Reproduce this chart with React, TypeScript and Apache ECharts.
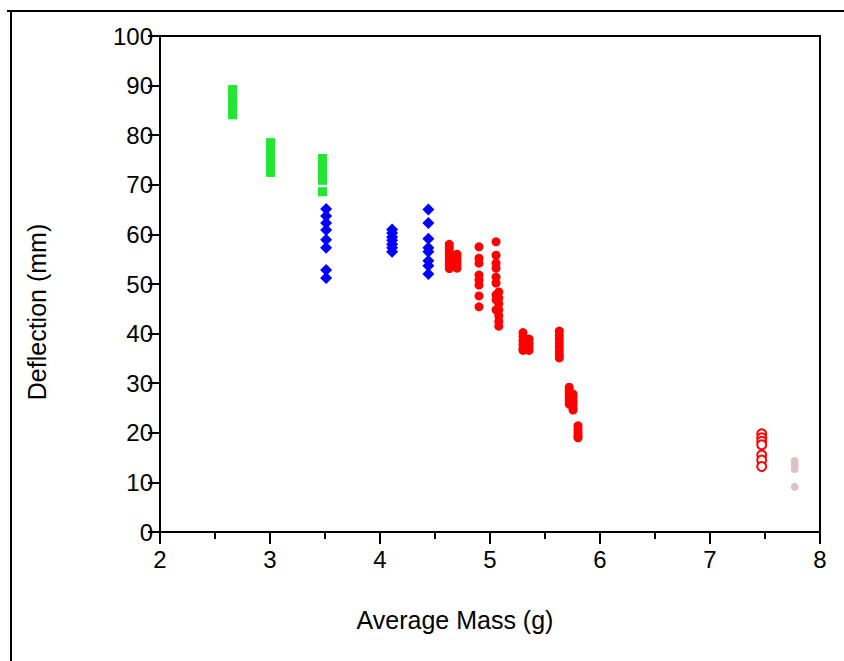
import React, { useEffect, useRef } from "react";
import * as echarts from "echarts";

// x ticks / y ticks
const xMin = 2, xMax = 8, xStep = 1;
const yMin = 0, yMax = 100, yStep = 10;

// Green columns (rect markers)
const greenCols: [number, number[]][] = [
  [2.66, [89.2, 87.5, 85.8, 84.1]],
  [3.005, [78.5, 77, 75.5, 74, 72.5]],
  [3.477, [75.3, 73.8, 72.3, 70.9, 68.6]],
];

// Blue columns (diamonds)
const blueCols: [number, number[]][] = [
  [3.51, [65.1, 63.7, 62.3, 60.9, 58.9, 57.3, 52.8, 51.2]],
  [4.11, [61, 60.3, 59.5, 58.8, 58, 57.3, 56.5]],
  [4.44, [65, 62.3, 59.1, 57.3, 56.5, 54.7, 53.7, 52]],
];

// Red filled circles
const redCols: [number, number[]][] = [
  [4.63, [58, 57.3, 56.6, 55.9, 55.2, 54.5, 53.8, 53.1]],
  [4.7, [56, 55.3, 54.6, 53.9, 53.2]],
  [4.9, [57.5, 55.2, 54.2, 51.8, 50.8, 49.8, 47.6, 45.4]],
  [5.055, [58.5, 55.8, 54.2, 53.2, 51.4, 50.2, 47.8, 46.8, 44.8]],
  [5.08, [48.4, 47.2, 46, 44.8, 43.6, 42.5, 41.5]],
  [5.3, [40.2, 39.4, 38.6, 37.8, 37, 36.6]],
  [5.355, [38.9, 38.1, 37.3, 36.6]],
  [5.63, [40.5, 39.7, 38.9, 38.1, 37.3, 36.5, 35.7, 35.1]],
  [5.72, [29.2, 28.5, 27.8, 27.1, 26.4, 25.8]],
  [5.755, [27.8, 27.1, 26.4, 25.7, 25, 24.6]],
  [5.8, [21.4, 20.7, 20, 19.4, 19]],
];

// Red hollow circles
const hollowCols: [number, number[]][] = [
  [7.47, [19.8, 19, 18.3, 17.6, 15.5, 14.5, 13.2]],
];

// Pink circles
const pinkCols: [number, number[]][] = [
  [7.77, [14.3, 13.5, 12.7, 9.1]],
];

const xTitle = "Average Mass (g)";
const yTitle = "Deflection (mm)";

const flat = (cols: [number, number[]][]) =>
  cols.flatMap(([x, ys]) => ys.map((y) => [x, y]));

const FONT = "'Liberation Sans', Arial, sans-serif";

export default function App() {
  const ref = useRef<HTMLDivElement>(null);
  useEffect(() => {
    document.body.style.margin = "0";
    const chart = echarts.init(ref.current!, null, { renderer: "svg" });
    const axisCommon = {
      axisLine: { show: true, lineStyle: { color: "#000", width: 2 } },
      axisTick: { show: true, inside: false, length: 12, lineStyle: { color: "#000", width: 2 } },
      splitLine: { show: false },
    };
    chart.setOption({
      animation: false,
      backgroundColor: "#fff",
      grid: {
        left: 160, right: 24, top: 36, bottom: 129,
        show: true, borderColor: "#000", borderWidth: 2, backgroundColor: "transparent",
      },
      xAxis: {
        type: "value", min: xMin, max: xMax, interval: xStep,
        ...axisCommon,
        minorTick: { show: true, splitNumber: 2, length: 7, lineStyle: { color: "#000", width: 2 } },
        axisLabel: { color: "#000", fontSize: 24, fontFamily: FONT, margin: 15 },
      },
      yAxis: {
        type: "value", min: yMin, max: yMax, interval: yStep,
        ...axisCommon,
        axisLabel: { color: "#000", fontSize: 24, fontFamily: FONT, margin: 7 },
      },
      graphic: [
        { type: "line", shape: { x1: 7, y1: 11, x2: 844, y2: 11 }, style: { stroke: "#000", lineWidth: 2 } },
        { type: "line", shape: { x1: 11, y1: 11, x2: 11, y2: 661 }, style: { stroke: "#000", lineWidth: 2 } },
        {
          type: "text", x: 455, y: 620,
          style: { text: xTitle, fill: "#000", font: `25px ${FONT}`, textAlign: "center", textVerticalAlign: "middle" },
        },
        {
          type: "text", x: 37, y: 312, rotation: Math.PI / 2,
          style: { text: yTitle, fill: "#000", font: `25px ${FONT}`, textAlign: "center", textVerticalAlign: "middle" },
        },
      ],
      series: [
        {
          type: "scatter", data: flat(greenCols), symbol: "rect", symbolSize: [9, 9],
          itemStyle: { color: "#22e632", opacity: 1 },
        },
        {
          type: "scatter", data: flat(blueCols), symbol: "diamond", symbolSize: 12,
          itemStyle: { color: "#0000ff", opacity: 1 },
        },
        {
          type: "scatter", data: flat(redCols), symbol: "circle", symbolSize: 9,
          itemStyle: { color: "#ff0000", opacity: 1 },
        },
        {
          type: "scatter", data: flat(hollowCols), symbol: "emptyCircle", symbolSize: 9,
          itemStyle: { color: "#ff0000", borderColor: "#ff0000", borderWidth: 2.5, opacity: 1 },
        },
        {
          type: "scatter", data: flat(pinkCols), symbol: "circle", symbolSize: 8,
          itemStyle: { color: "#dfc2c2", opacity: 1 },
        },
      ],
    });
    return () => chart.dispose();
  }, []);
  return <div ref={ref} style={{ width: 844, height: 661 }} />;
}
